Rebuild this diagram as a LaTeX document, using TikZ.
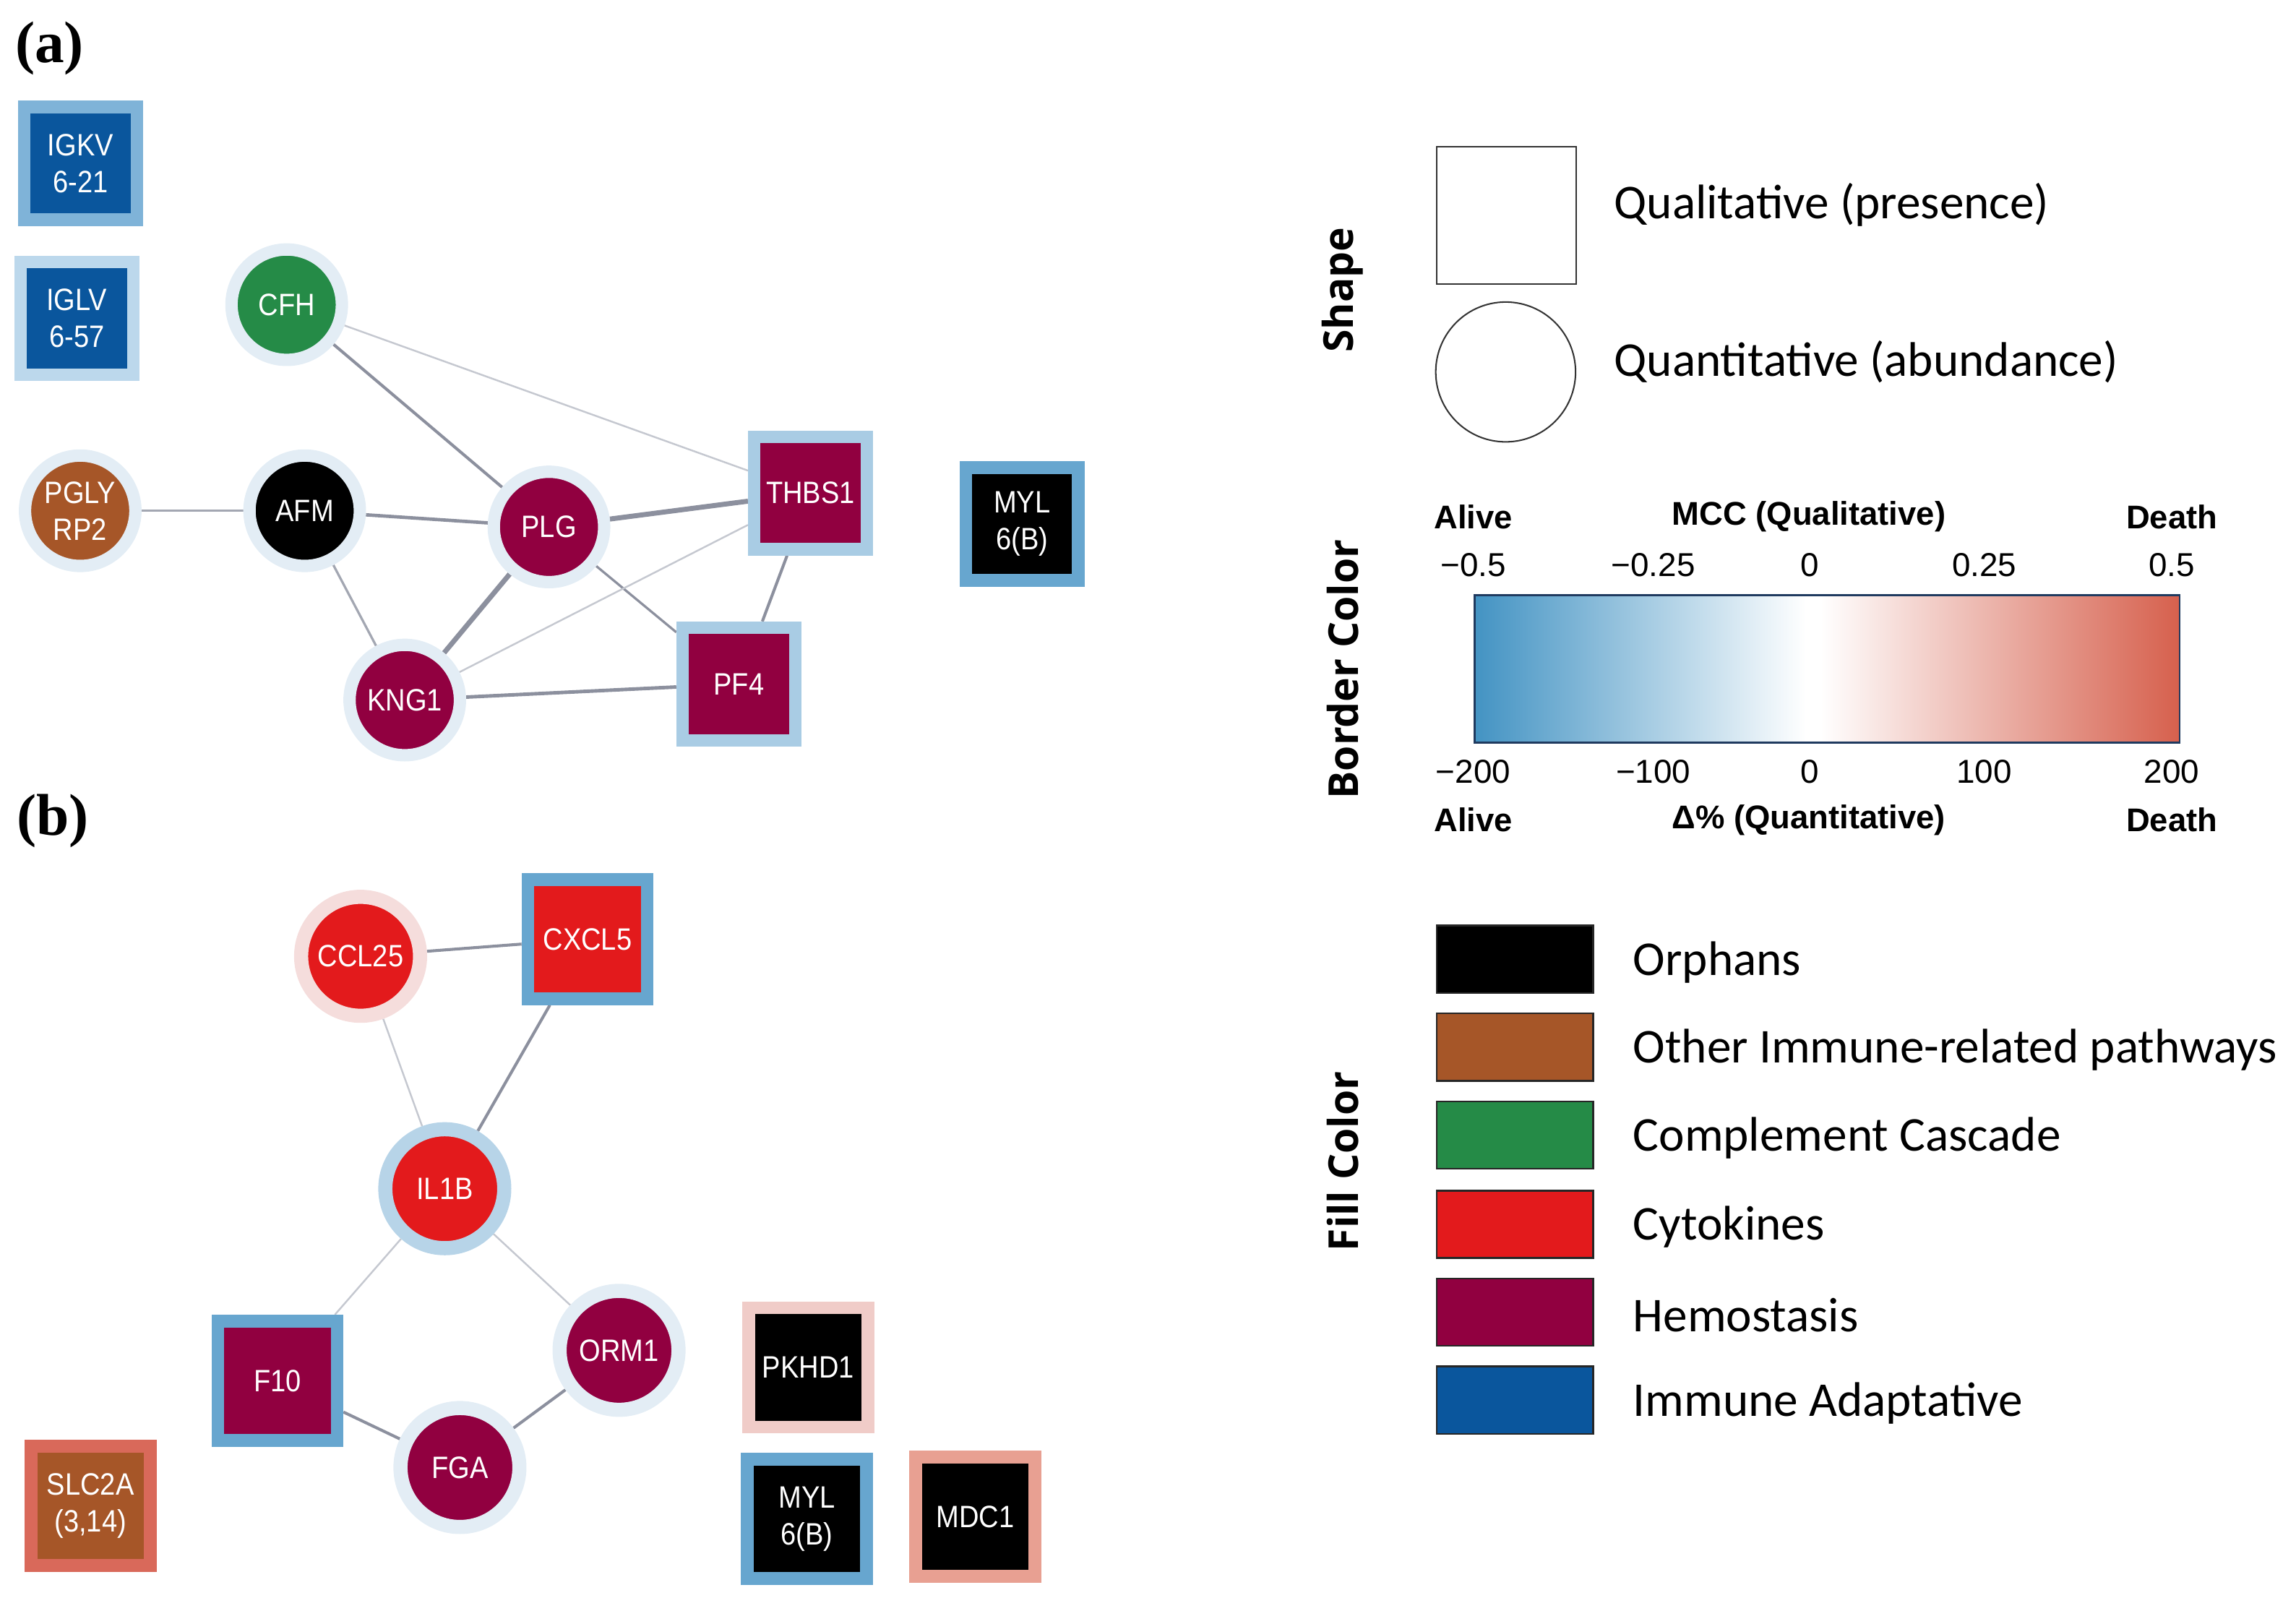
\documentclass[tikz,border=0pt]{standalone}
\usepackage{fontspec}
\setmainfont{Liberation Serif}
\newfontfamily\nodefont{Liberation Sans}[FakeStretch=0.89]
\newfontfamily\legfont{Carlito}
\newfontfamily\headfont{Open Sans}
\newfontfamily\arialfont{Liberation Sans}
\usetikzlibrary{backgrounds}
\definecolor{hemo}{HTML}{910040}
\definecolor{cyto}{HTML}{E31A1C}
\definecolor{compl}{HTML}{258B47}
\definecolor{othimm}{HTML}{A65628}
\definecolor{immad}{HTML}{0A569D}
\definecolor{bmed}{HTML}{67A6CF}
\definecolor{blight}{HTML}{A9CCE4}
\definecolor{bigkv}{HTML}{7FB3D8}
\definecolor{biglv}{HTML}{BCD8EC}
\definecolor{bpale}{HTML}{E3EDF5}
\definecolor{bil}{HTML}{B7D4E8}
\definecolor{bccl}{HTML}{F5DDDC}
\definecolor{bpk}{HTML}{F0CCC8}
\definecolor{bmdc}{HTML}{E8A092}
\definecolor{bslc}{HTML}{D9695A}
\definecolor{edgem}{HTML}{8C909E}
\definecolor{edgel}{HTML}{C5C8D0}
\definecolor{edgeml}{HTML}{A3A7B2}
\definecolor{lblue}{HTML}{4393C3}
\definecolor{lred}{HTML}{D6604D}
\definecolor{barnavy}{HTML}{1F3A5F}
\pgfdeclarehorizontalshading{bwr}{100bp}{color(0bp)=(lblue); color(25bp)=(lblue); color(48.5bp)=(white); color(49.5bp)=(white); color(75bp)=(lred); color(100bp)=(lred)}
\tikzset{
  ntext/.style={text=white, font=\nodefont\fontsize{21}{25}\selectfont, align=center, inner sep=0pt},
  circa/.style={ntext, circle, minimum size=75pt, line width=8.4pt},
  sqa/.style={ntext, rectangle, minimum size=76.5pt, line width=8.5pt},
  circb/.style={ntext, circle, minimum size=80.8pt, line width=9.6pt},
  sqb/.style={ntext, rectangle, minimum size=81pt, line width=8.7pt},
  ethin/.style={draw=edgel, line width=1.2pt},
  emthin/.style={draw=edgeml, line width=1.6pt},
  emed/.style={draw=edgem, line width=2pt},
  ethick/.style={draw=edgem, line width=3.4pt},
  panel/.style={font=\bfseries\fontsize{40}{40}\selectfont},
  head/.style={font=\headfont\bfseries\fontsize{28}{28}\selectfont, rotate=90},
  leg/.style={font=\legfont\fontsize{33}{36}\selectfont, anchor=west, inner sep=0pt},
  abold/.style={font=\arialfont\bfseries\fontsize{22.3}{24}\selectfont, inner sep=0pt},
  atick/.style={font=\arialfont\fontsize{22.5}{24}\selectfont, inner sep=0pt},
  swatch/.style={draw=black!85, line width=1.2pt, minimum width=106.5pt, minimum height=45.8pt, inner sep=0pt}
}
\begin{document}
\begin{tikzpicture}[x=1pt,y=-1pt]
\useasboundingbox (0,0) rectangle (1560,1085.6);
% ---------- panel (a) ----------
\node[panel] (pa) at (33.7,32.8) {(a)};
\node[sqa, fill=immad, draw=bigkv] (IGKV) at (54.7,111) {IGKV\\6-21};
\node[sqa, fill=immad, draw=biglv] (IGLV) at (52.2,216.3) {IGLV\\6-57};
\node[circa, fill=compl, draw=bpale] (CFH) at (194.8,207) {CFH};
\node[circa, fill=othimm, draw=bpale] (PGLY) at (54.5,347) {PGLY\\RP2};
\node[circa, fill=black, draw=bpale] (AFM) at (207,347) {AFM};
\node[circa, fill=hemo, draw=bpale] (PLG) at (373,358) {PLG};
\node[sqa, fill=hemo, draw=blight] (THBS1) at (550.7,335) {THBS1};
\node[sqa, fill=black, draw=bmed] (MYLa) at (694.4,356) {MYL\\6(B)};
\node[circa, fill=hemo, draw=bpale] (KNG1) at (275,475.6) {KNG1};
\node[sqa, fill=hemo, draw=blight] (PF4) at (502,464.7) {PF4};
\begin{scope}[on background layer]
\draw[ethin] (CFH) -- (THBS1);
\draw[emed] (CFH) -- (PLG);
\draw[emthin] (PGLY) -- (AFM);
\draw[emed, line width=2.3pt] (AFM) -- (PLG);
\draw[emthin] (AFM) -- (KNG1);
\draw[ethick] (PLG) -- (THBS1);
\draw[ethick] (PLG) -- (KNG1);
\draw[emed, line width=1.6pt] (PLG) -- (PF4);
\draw[ethin] (KNG1) -- (THBS1);
\draw[emed, line width=2.4pt] (KNG1) -- (PF4);
\draw[emed] (THBS1) -- (PF4);
\end{scope}
% ---------- panel (b) ----------
\node[panel] (pb) at (36,558) {(b)};
\node[circb, fill=cyto, draw=bccl] (CCL25) at (245,649.7) {CCL25};
\node[sqb, fill=cyto, draw=bmed] (CXCL5) at (399.2,638) {CXCL5};
\node[circb, fill=cyto, draw=bil] (IL1B) at (302.2,807.6) {IL1B};
\node[sqb, fill=hemo, draw=bmed] (F10) at (188.5,938) {F10};
\node[circb, fill=hemo, draw=bpale] (ORM1) at (420.6,917.4) {ORM1};
\node[circb, fill=hemo, draw=bpale] (FGA) at (312.5,997) {FGA};
\node[sqb, fill=black, draw=bpk] (PKHD1) at (549.1,929) {PKHD1};
\node[sqb, fill=black, draw=bmed] (MYLb) at (548.3,1032) {MYL\\6(B)};
\node[sqb, fill=black, draw=bmdc] (MDC1) at (662.7,1030.4) {MDC1};
\node[sqb, fill=othimm, draw=bslc] (SLC2A) at (61.5,1023) {SLC2A\\(3,14)};
\begin{scope}[on background layer]
\draw[emed] (CCL25) -- (CXCL5);
\draw[ethin] (CCL25) -- (IL1B);
\draw[emed] (CXCL5) -- (IL1B);
\draw[ethin] (IL1B) -- (F10);
\draw[ethin] (IL1B) -- (ORM1);
\draw[emed] (F10) -- (FGA);
\draw[emed] (FGA) -- (ORM1);
\end{scope}
% ---------- legend: shape ----------
\node[head] (hshape) at (912.4,197) {Shape};
\node[draw=black!80, line width=1pt, minimum width=95pt, minimum height=93.5pt, inner sep=0pt] (lsq) at (1023.5,146.2) {};
\node[draw=black!80, line width=1pt, circle, minimum size=95pt, inner sep=0pt] (lci) at (1023,252.7) {};
\node[leg] (tqual) at (1096.5,139.3) {Qualitative (presence)};
\node[leg] (tquan) at (1096.5,245.8) {Quantitative (abundance)};
% ---------- legend: border colour ----------
\node[head] (hborder) at (912.4,454.7) {Border Color};
\node[abold] (al1) at (1001,351) {Alive};
\node[abold] (mcc) at (1229,351) {MCC (Qualitative)};
\node[abold] (de1) at (1475.6,351) {Death};
\node[atick] (t1) at (1001,384) {−0.5};
\node[atick] (t2) at (1123.3,384) {−0.25};
\node[atick] (t3) at (1229.8,384) {0};
\node[atick] (t4) at (1348.2,384) {0.25};
\node[atick] (t5) at (1475.6,384) {0.5};
\shade[shading=bwr] (1002,404.3) rectangle (1481,504.6);
\draw[barnavy, line width=1.2pt] (1002,404.3) rectangle (1481,504.6);
\node[atick] (b1) at (1001,524.4) {−200};
\node[atick] (b2) at (1123.3,524.4) {−100};
\node[atick] (b3) at (1229.8,524.4) {0};
\node[atick] (b4) at (1348.2,524.4) {100};
\node[atick] (b5) at (1475.6,524.4) {200};
\node[abold] (al2) at (1001,557.2) {Alive};
\node[abold] (dq) at (1229,557.2) {Δ\% (Quantitative)};
\node[abold] (de2) at (1475.6,557.2) {Death};
% ---------- legend: fill colour ----------
\node[head] (hfill) at (912.4,789) {Fill Color};
\node[swatch, fill=black] (s1) at (1029.3,651.7) {};
\node[swatch, fill=othimm] (s2) at (1029.3,711.4) {};
\node[swatch, fill=compl] (s3) at (1029.3,771.1) {};
\node[swatch, fill=cyto] (s4) at (1029.3,831.8) {};
\node[swatch, fill=hemo] (s5) at (1029.3,891.5) {};
\node[swatch, fill=immad] (s6) at (1029.3,951.2) {};
\node[leg] (l1) at (1109.4,653.7) {Orphans};
\node[leg] (l2) at (1109.4,713.4) {Other Immune-related pathways};
\node[leg] (l3) at (1109.4,773.1) {Complement Cascade};
\node[leg] (l4) at (1109.4,833.8) {Cytokines};
\node[leg] (l5) at (1109.4,893.5) {Hemostasis};
\node[leg] (l6) at (1109.4,953.2) {Immune Adaptative};
\end{tikzpicture}
\end{document}
